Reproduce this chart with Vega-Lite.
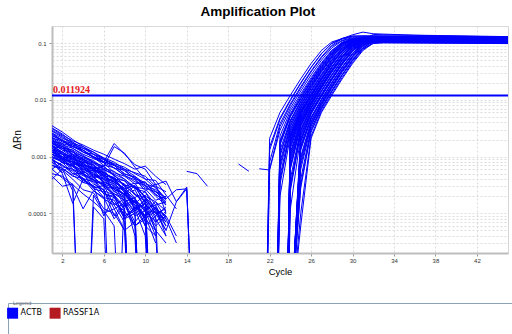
{
"$schema": "https://vega.github.io/schema/vega-lite/v6.json",
"autosize": {"type": "pad"},
"padding": {"left": 7, "top": 4, "right": 0, "bottom": 0},
"background": "#ffffff",
"spacing": 24,
"config": {
  "view": {"stroke": null},
  "font": "Liberation Sans"
},
"datasets": {
"thr": [{"t": 0.011924, "label": "0.011924", "c0": 1}],
"leg": [{"g": "ACTB"}, {"g": "RASSF1A"}],
"curves": [
{"s":"b1","c":1,"v":0.0031},{"s":"b1","c":2,"v":0.0024},{"s":"b1","c":3,"v":0.0019},{"s":"b1","c":4,"v":0.0016},{"s":"b1","c":5,"v":0.0013},{"s":"b1","c":6,"v":0.0011},{"s":"b1","c":7,"v":0.0009},{"s":"b1","c":8,"v":0.00075},{"s":"b1","c":9,"v":0.0006},{"s":"b1","c":10,"v":0.00068},{"s":"b1","c":11,"v":0.00045},{"s":"b1","c":12,"v":0.00032},
{"s":"b2","c":1,"v":0.0026},{"s":"b2","c":2,"v":0.0021},{"s":"b2","c":3,"v":0.0018},{"s":"b2","c":4,"v":0.0012},{"s":"b2","c":5,"v":0.0011},{"s":"b2","c":6,"v":0.0008},{"s":"b2","c":7,"v":0.0007},{"s":"b2","c":8,"v":0.0005},{"s":"b2","c":9,"v":0.00042},{"s":"b2","c":10,"v":0.0003},{"s":"b2","c":11,"v":0.00022},{"s":"b2","c":12,"v":0.00015},
{"s":"b3","c":1,"v":0.0022},{"s":"b3","c":2,"v":0.0017},{"s":"b3","c":3,"v":0.0015},{"s":"b3","c":4,"v":0.0013},{"s":"b3","c":5,"v":0.00095},{"s":"b3","c":6,"v":0.0009},{"s":"b3","c":7,"v":0.00062},{"s":"b3","c":8,"v":0.00058},{"s":"b3","c":9,"v":0.0004},{"s":"b3","c":10,"v":0.00025},{"s":"b3","c":11,"v":0.00033},{"s":"b3","c":12,"v":0.0001},
{"s":"b4","c":1,"v":0.0019},{"s":"b4","c":2,"v":0.0016},{"s":"b4","c":3,"v":0.0011},{"s":"b4","c":4,"v":0.00095},{"s":"b4","c":5,"v":0.0008},{"s":"b4","c":6,"v":0.0006},{"s":"b4","c":7,"v":0.00048},{"s":"b4","c":8,"v":0.0003},{"s":"b4","c":9,"v":0.00034},{"s":"b4","c":10,"v":0.00018},{"s":"b4","c":11,"v":0.00012},{"s":"b4","c":12,"v":0.00009},
{"s":"b5","c":1,"v":0.0018},{"s":"b5","c":2,"v":0.0013},{"s":"b5","c":3,"v":0.0012},{"s":"b5","c":4,"v":0.0009},{"s":"b5","c":5,"v":0.00072},{"s":"b5","c":6,"v":0.00052},{"s":"b5","c":7,"v":0.0004},{"s":"b5","c":8,"v":0.00038},{"s":"b5","c":9,"v":0.00022},{"s":"b5","c":10,"v":0.00016},{"s":"b5","c":11,"v":1e-8},
{"s":"b6","c":1,"v":0.0017},{"s":"b6","c":2,"v":0.0015},{"s":"b6","c":3,"v":0.00105},{"s":"b6","c":4,"v":0.00088},{"s":"b6","c":5,"v":0.00066},{"s":"b6","c":6,"v":0.00058},{"s":"b6","c":7,"v":0.00035},{"s":"b6","c":8,"v":0.00028},{"s":"b6","c":9,"v":0.00019},{"s":"b6","c":10,"v":0.00024},{"s":"b6","c":11,"v":0.00011},{"s":"b6","c":12,"v":0.00006},
{"s":"b7","c":1,"v":0.0016},{"s":"b7","c":2,"v":0.0012},{"s":"b7","c":3,"v":0.00095},{"s":"b7","c":4,"v":0.0008},{"s":"b7","c":5,"v":0.0007},{"s":"b7","c":6,"v":0.00046},{"s":"b7","c":7,"v":0.00042},{"s":"b7","c":8,"v":0.00025},{"s":"b7","c":9,"v":0.00014},{"s":"b7","c":10,"v":0.00009},{"s":"b7","c":11,"v":0.00013},{"s":"b7","c":12,"v":0.00004},
{"s":"b8","c":1,"v":0.0015},{"s":"b8","c":2,"v":0.0011},{"s":"b8","c":3,"v":0.0009},{"s":"b8","c":4,"v":0.00075},{"s":"b8","c":5,"v":0.00055},{"s":"b8","c":6,"v":0.0005},{"s":"b8","c":7,"v":0.00032},{"s":"b8","c":8,"v":0.00021},{"s":"b8","c":9,"v":0.00026},{"s":"b8","c":10,"v":0.00012},{"s":"b8","c":11,"v":1e-8},
{"s":"b9","c":1,"v":0.0014},{"s":"b9","c":2,"v":0.00115},{"s":"b9","c":3,"v":0.00085},{"s":"b9","c":4,"v":0.0006},{"s":"b9","c":5,"v":0.00062},{"s":"b9","c":6,"v":0.00041},{"s":"b9","c":7,"v":0.00036},{"s":"b9","c":8,"v":0.00018},{"s":"b9","c":9,"v":0.00011},{"s":"b9","c":10,"v":0.00015},{"s":"b9","c":11,"v":0.00007},{"s":"b9","c":12,"v":0.00011},
{"s":"b10","c":1,"v":0.0013},{"s":"b10","c":2,"v":0.0009},{"s":"b10","c":3,"v":0.0008},{"s":"b10","c":4,"v":0.00068},{"s":"b10","c":5,"v":0.00048},{"s":"b10","c":6,"v":0.00037},{"s":"b10","c":7,"v":1e-8},{"s":"b10","c":8,"v":0.00024},{"s":"b10","c":9,"v":0.00013},{"s":"b10","c":10,"v":0.00009},
{"s":"b11","c":1,"v":0.0012},{"s":"b11","c":2,"v":0.001},{"s":"b11","c":3,"v":0.00072},{"s":"b11","c":4,"v":0.00055},{"s":"b11","c":5,"v":0.00044},{"s":"b11","c":6,"v":0.0003},{"s":"b11","c":7,"v":0.00027},{"s":"b11","c":8,"v":0.00014},{"s":"b11","c":9,"v":0.00017},{"s":"b11","c":10,"v":0.00008},{"s":"b11","c":11,"v":0.00005},{"s":"b11","c":12,"v":0.00003},
{"s":"b12","c":1,"v":0.0011},{"s":"b12","c":2,"v":0.00078},{"s":"b12","c":3,"v":0.0007},{"s":"b12","c":4,"v":0.0005},{"s":"b12","c":5,"v":0.00038},{"s":"b12","c":6,"v":0.00032},{"s":"b12","c":7,"v":0.0002},{"s":"b12","c":8,"v":0.00012},{"s":"b12","c":9,"v":1e-8},
{"s":"b13","c":1,"v":0.001},{"s":"b13","c":2,"v":0.00085},{"s":"b13","c":3,"v":0.00058},{"s":"b13","c":4,"v":0.00046},{"s":"b13","c":5,"v":0.0004},{"s":"b13","c":6,"v":0.00022},{"s":"b13","c":7,"v":0.00019},{"s":"b13","c":8,"v":0.00009},{"s":"b13","c":9,"v":0.00012},{"s":"b13","c":10,"v":0.00004},{"s":"b13","c":11,"v":1e-8},
{"s":"b14","c":1,"v":0.0009},{"s":"b14","c":2,"v":0.0007},{"s":"b14","c":3,"v":0.00055},{"s":"b14","c":4,"v":0.00038},{"s":"b14","c":5,"v":0.0003},{"s":"b14","c":6,"v":0.00026},{"s":"b14","c":7,"v":0.00012},{"s":"b14","c":8,"v":0.00015},{"s":"b14","c":9,"v":0.00006},{"s":"b14","c":10,"v":0.00009},{"s":"b14","c":11,"v":0.00003},
{"s":"b15","c":1,"v":0.0008},{"s":"b15","c":2,"v":0.00062},{"s":"b15","c":3,"v":0.00045},{"s":"b15","c":4,"v":0.00041},{"s":"b15","c":5,"v":0.00025},{"s":"b15","c":6,"v":0.00018},{"s":"b15","c":7,"v":0.00014},{"s":"b15","c":8,"v":0.00007},{"s":"b15","c":9,"v":1e-8},
{"s":"b16","c":1,"v":0.0007},{"s":"b16","c":2,"v":0.00058},{"s":"b16","c":3,"v":0.0004},{"s":"b16","c":4,"v":0.00026},{"s":"b16","c":5,"v":0.00023},{"s":"b16","c":6,"v":0.00012},{"s":"b16","c":7,"v":0.0001},{"s":"b16","c":8,"v":0.00005},{"s":"b16","c":9,"v":0.00007},{"s":"b16","c":10,"v":1e-8},
{"s":"b17","c":1,"v":0.0005},{"s":"b17","c":2,"v":0.00045},{"s":"b17","c":3,"v":0.00032},{"s":"b17","c":4,"v":0.00022},{"s":"b17","c":5,"v":0.00016},{"s":"b17","c":6,"v":0.00011},{"s":"b17","c":7,"v":0.00006},{"s":"b17","c":8,"v":1e-8},
{"s":"b18","c":1,"v":0.0004},{"s":"b18","c":2,"v":0.0006},{"s":"b18","c":3,"v":0.00025},{"s":"b18","c":4,"v":1e-8},{"s":"b18","c":5,"v":0.00013},{"s":"b18","c":6,"v":0.00008},{"s":"b18","c":7,"v":1e-8},
{"s":"b19","c":1,"v":0.0021},{"s":"b19","c":2,"v":0.0019},{"s":"b19","c":3,"v":0.0014},{"s":"b19","c":4,"v":0.0011},{"s":"b19","c":5,"v":0.00092},{"s":"b19","c":6,"v":0.00078},{"s":"b19","c":7,"v":0.00052},{"s":"b19","c":8,"v":0.00045},{"s":"b19","c":9,"v":0.00033},{"s":"b19","c":10,"v":0.00036},{"s":"b19","c":11,"v":0.00021},{"s":"b19","c":12,"v":0.00018},{"s":"b19","c":13,"v":0.00026},{"s":"b19","c":14,"v":0.00027},{"s":"b19","c":15,"v":1e-8},
{"s":"b20","c":1,"v":0.0024},{"s":"b20","c":2,"v":0.0018},{"s":"b20","c":3,"v":0.0016},{"s":"b20","c":4,"v":0.0012},{"s":"b20","c":5,"v":0.001},{"s":"b20","c":6,"v":0.0008},{"s":"b20","c":7,"v":0.0017},{"s":"b20","c":8,"v":0.0011},{"s":"b20","c":9,"v":0.00072},{"s":"b20","c":10,"v":0.0006},{"s":"b20","c":11,"v":0.00032},{"s":"b20","c":12,"v":0.00037},{"s":"b20","c":13,"v":0.00016},{"s":"b20","c":14,"v":0.00029},{"s":"b20","c":15,"v":1e-8},
{"s":"b21","c":1,"v":0.0011},{"s":"b21","c":2,"v":0.0009},{"s":"b21","c":3,"v":0.00082},{"s":"b21","c":4,"v":0.0007},{"s":"b21","c":5,"v":0.0006},{"s":"b21","c":6,"v":0.00068},{"s":"b21","c":7,"v":0.0015},{"s":"b21","c":8,"v":0.00115},{"s":"b21","c":9,"v":0.00065},{"s":"b21","c":10,"v":0.0004},{"s":"b21","c":11,"v":0.00028},{"s":"b21","c":12,"v":0.00017},
{"s":"b22","c":1,"v":0.0028},{"s":"b22","c":2,"v":0.0022},{"s":"b22","c":3,"v":0.0016},{"s":"b22","c":4,"v":0.0014},{"s":"b22","c":5,"v":0.0012},{"s":"b22","c":6,"v":0.00095},{"s":"b22","c":7,"v":0.0008},{"s":"b22","c":8,"v":0.0006},{"s":"b22","c":9,"v":0.00052},{"s":"b22","c":10,"v":0.00045},{"s":"b22","c":11,"v":0.0003},{"s":"b22","c":12,"v":0.00024},
{"s":"b23","c":1,"v":0.0016},{"s":"b23","c":2,"v":0.0009},{"s":"b23","c":3,"v":0.0011},{"s":"b23","c":4,"v":0.00052},{"s":"b23","c":5,"v":0.00058},{"s":"b23","c":6,"v":0.00033},{"s":"b23","c":7,"v":0.00028},{"s":"b23","c":8,"v":0.00022},{"s":"b23","c":9,"v":0.00016},{"s":"b23","c":10,"v":0.00011},{"s":"b23","c":11,"v":0.00016},{"s":"b23","c":12,"v":0.00008},{"s":"b23","c":13,"v":0.00003},
{"s":"b24","c":1,"v":0.0013},{"s":"b24","c":2,"v":0.0011},{"s":"b24","c":3,"v":0.0007},{"s":"b24","c":4,"v":0.0008},{"s":"b24","c":5,"v":0.00042},{"s":"b24","c":6,"v":0.00048},{"s":"b24","c":7,"v":0.00024},{"s":"b24","c":8,"v":0.00032},{"s":"b24","c":9,"v":0.00011},{"s":"b24","c":10,"v":0.00018},{"s":"b24","c":11,"v":0.0001},{"s":"b24","c":12,"v":0.00005},{"s":"b24","c":13,"v":0.00016},{"s":"b24","c":14,"v":0.00027},{"s":"b24","c":15,"v":1e-8},
{"s":"b25","c":1,"v":0.0009},{"s":"b25","c":2,"v":0.00052},{"s":"b25","c":3,"v":0.00078},{"s":"b25","c":4,"v":0.00035},{"s":"b25","c":5,"v":0.0004},{"s":"b25","c":6,"v":0.00025},{"s":"b25","c":7,"v":0.00021},{"s":"b25","c":8,"v":0.00008},{"s":"b25","c":9,"v":0.00013},{"s":"b25","c":10,"v":0.00006},{"s":"b25","c":11,"v":0.00009},{"s":"b25","c":12,"v":1e-8},
{"s":"b26","c":1,"v":0.0006},{"s":"b26","c":2,"v":0.0008},{"s":"b26","c":3,"v":0.0005},{"s":"b26","c":4,"v":0.0005},{"s":"b26","c":5,"v":0.00028},{"s":"b26","c":6,"v":0.00031},{"s":"b26","c":7,"v":0.00014},{"s":"b26","c":8,"v":0.00018},{"s":"b26","c":9,"v":0.00004},{"s":"b26","c":10,"v":1e-8},
{"s":"b27","c":1,"v":0.0035},{"s":"b27","c":2,"v":0.0027},{"s":"b27","c":3,"v":0.002},{"s":"b27","c":4,"v":0.0015},{"s":"b27","c":5,"v":0.0012},{"s":"b27","c":6,"v":0.0009},{"s":"b27","c":7,"v":0.00075},{"s":"b27","c":8,"v":0.00065},{"s":"b27","c":9,"v":0.0005},{"s":"b27","c":10,"v":0.0004},{"s":"b27","c":11,"v":0.00038},{"s":"b27","c":12,"v":0.00021},{"s":"b27","c":13,"v":0.00012},
{"s":"b28","c":1,"v":0.0019},{"s":"b28","c":2,"v":0.0014},{"s":"b28","c":3,"v":0.0013},{"s":"b28","c":4,"v":0.0007},{"s":"b28","c":5,"v":0.00065},{"s":"b28","c":6,"v":0.00055},{"s":"b28","c":7,"v":0.00038},{"s":"b28","c":8,"v":0.00027},{"s":"b28","c":9,"v":0.00031},{"s":"b28","c":10,"v":0.00019},{"s":"b28","c":11,"v":0.00013},{"s":"b28","c":12,"v":0.00007},
{"s":"b29","c":1,"v":0.00045},{"s":"b29","c":2,"v":0.0003},{"s":"b29","c":3,"v":0.00033},{"s":"b29","c":4,"v":1e-8},{"s":"b29","c":5,"v":0.00021},{"s":"b29","c":6,"v":0.0001},{"s":"b29","c":7,"v":0.00012},{"s":"b29","c":8,"v":0.00005},{"s":"b29","c":9,"v":1e-8},
{"s":"b30","c":1,"v":0.0012},{"s":"b30","c":2,"v":0.00095},{"s":"b30","c":3,"v":0.0006},{"s":"b30","c":4,"v":0.0005},{"s":"b30","c":5,"v":0.00033},{"s":"b30","c":6,"v":0.00026},{"s":"b30","c":7,"v":0.00009},{"s":"b30","c":8,"v":0.00016},{"s":"b30","c":9,"v":0.00007},{"s":"b30","c":10,"v":0.00012},{"s":"b30","c":11,"v":0.00006},{"s":"b30","c":12,"v":0.00009},{"s":"b30","c":13,"v":0.00004},
{"s":"b31","c":1,"v":0.0025},{"s":"b31","c":2,"v":0.0019},{"s":"b31","c":3,"v":0.0017},{"s":"b31","c":4,"v":0.0013},{"s":"b31","c":5,"v":0.001},{"s":"b31","c":6,"v":0.00082},{"s":"b31","c":7,"v":0.0007},{"s":"b31","c":8,"v":0.00049},{"s":"b31","c":9,"v":0.00044},{"s":"b31","c":10,"v":0.00031},{"s":"b31","c":11,"v":0.00026},{"s":"b31","c":12,"v":0.00014},
{"s":"b32","c":1,"v":0.0015},{"s":"b32","c":2,"v":0.0014},{"s":"b32","c":3,"v":0.001},{"s":"b32","c":4,"v":0.00092},{"s":"b32","c":5,"v":0.0006},{"s":"b32","c":6,"v":0.00053},{"s":"b32","c":7,"v":0.00039},{"s":"b32","c":8,"v":0.00033},{"s":"b32","c":9,"v":0.00021},{"s":"b32","c":10,"v":0.00019},{"s":"b32","c":11,"v":0.0001},{"s":"b32","c":12,"v":0.00012},
{"s":"b33","c":1,"v":0.0013},{"s":"b33","c":2,"v":0.0012},{"s":"b33","c":3,"v":0.0009},{"s":"b33","c":4,"v":0.0007},{"s":"b33","c":5,"v":0.00064},{"s":"b33","c":6,"v":0.00044},{"s":"b33","c":7,"v":0.00035},{"s":"b33","c":8,"v":0.00027},{"s":"b33","c":9,"v":0.00015},{"s":"b33","c":10,"v":0.00021},{"s":"b33","c":11,"v":1e-8},
{"s":"b34","c":1,"v":0.0011},{"s":"b34","c":2,"v":0.00094},{"s":"b34","c":3,"v":0.0008},{"s":"b34","c":4,"v":0.00061},{"s":"b34","c":5,"v":0.00045},{"s":"b34","c":6,"v":0.0004},{"s":"b34","c":7,"v":0.00024},{"s":"b34","c":8,"v":0.0002},{"s":"b34","c":9,"v":0.00014},{"s":"b34","c":10,"v":0.00008},{"s":"b34","c":11,"v":0.00011},{"s":"b34","c":12,"v":0.00005},
{"s":"b35","c":1,"v":0.002},{"s":"b35","c":2,"v":0.0015},{"s":"b35","c":3,"v":0.0013},{"s":"b35","c":4,"v":0.001},{"s":"b35","c":5,"v":0.00085},{"s":"b35","c":6,"v":0.00062},{"s":"b35","c":7,"v":0.00055},{"s":"b35","c":8,"v":0.0004},{"s":"b35","c":9,"v":0.00029},{"s":"b35","c":10,"v":0.00027},{"s":"b35","c":11,"v":0.00017},{"s":"b35","c":12,"v":0.0002},
{"s":"b36","c":1,"v":0.00095},{"s":"b36","c":2,"v":0.00082},{"s":"b36","c":3,"v":0.00066},{"s":"b36","c":4,"v":0.00048},{"s":"b36","c":5,"v":0.00043},{"s":"b36","c":6,"v":0.00029},{"s":"b36","c":7,"v":0.00022},{"s":"b36","c":8,"v":0.00019},{"s":"b36","c":9,"v":0.0001},{"s":"b36","c":10,"v":0.00013},{"s":"b36","c":11,"v":0.00005},
{"s":"b37","c":1,"v":0.0017},{"s":"b37","c":2,"v":0.0013},{"s":"b37","c":3,"v":0.00099},{"s":"b37","c":4,"v":0.00085},{"s":"b37","c":5,"v":0.00058},{"s":"b37","c":6,"v":0.00052},{"s":"b37","c":7,"v":0.00041},{"s":"b37","c":8,"v":0.00023},{"s":"b37","c":9,"v":0.0003},{"s":"b37","c":10,"v":0.00015},{"s":"b37","c":11,"v":0.00009},{"s":"b37","c":12,"v":0.00013},
{"s":"b38","c":1,"v":0.0023},{"s":"b38","c":2,"v":0.002},{"s":"b38","c":3,"v":0.0015},{"s":"b38","c":4,"v":0.0012},{"s":"b38","c":5,"v":0.00098},{"s":"b38","c":6,"v":0.0007},{"s":"b38","c":7,"v":0.00064},{"s":"b38","c":8,"v":0.00046},{"s":"b38","c":9,"v":0.00039},{"s":"b38","c":10,"v":0.00028},{"s":"b38","c":11,"v":0.00024},{"s":"b38","c":12,"v":0.00016},
{"s":"b39","c":1,"v":0.0012},{"s":"b39","c":2,"v":0.00088},{"s":"b39","c":3,"v":0.00075},{"s":"b39","c":4,"v":0.00068},{"s":"b39","c":5,"v":0.0005},{"s":"b39","c":6,"v":0.00035},{"s":"b39","c":7,"v":0.00031},{"s":"b39","c":8,"v":0.00016},{"s":"b39","c":9,"v":0.00019},{"s":"b39","c":10,"v":0.00007},{"s":"b39","c":11,"v":1e-8},
{"s":"b40","c":1,"v":0.0016},{"s":"b40","c":2,"v":0.0011},{"s":"b40","c":3,"v":0.001},{"s":"b40","c":4,"v":0.00072},{"s":"b40","c":5,"v":0.00062},{"s":"b40","c":6,"v":0.00047},{"s":"b40","c":7,"v":0.00029},{"s":"b40","c":8,"v":0.00026},{"s":"b40","c":9,"v":0.00017},{"s":"b40","c":10,"v":0.00012},{"s":"b40","c":11,"v":0.00014},{"s":"b40","c":12,"v":0.00006},
{"s":"b41","c":1,"v":0.0029},{"s":"b41","c":2,"v":0.0023},{"s":"b41","c":3,"v":0.0017},{"s":"b41","c":4,"v":0.0015},{"s":"b41","c":5,"v":0.0011},{"s":"b41","c":6,"v":0.00088},{"s":"b41","c":7,"v":0.00072},{"s":"b41","c":8,"v":0.00056},{"s":"b41","c":9,"v":0.00041},{"s":"b41","c":10,"v":0.00035},{"s":"b41","c":11,"v":0.00024},{"s":"b41","c":12,"v":0.00019},
{"s":"b42","c":1,"v":0.00085},{"s":"b42","c":2,"v":0.00071},{"s":"b42","c":3,"v":0.0005},{"s":"b42","c":4,"v":0.00042},{"s":"b42","c":5,"v":0.00027},{"s":"b42","c":6,"v":0.00024},{"s":"b42","c":7,"v":0.00015},{"s":"b42","c":8,"v":0.00011},{"s":"b42","c":9,"v":0.00006},{"s":"b42","c":10,"v":0.00008},{"s":"b42","c":11,"v":1e-8},
{"s":"b43","c":1,"v":0.0014},{"s":"b43","c":2,"v":0.001},{"s":"b43","c":3,"v":0.00092},{"s":"b43","c":4,"v":0.00065},{"s":"b43","c":5,"v":0.00055},{"s":"b43","c":6,"v":0.00039},{"s":"b43","c":7,"v":0.00033},{"s":"b43","c":8,"v":0.00024},{"s":"b43","c":9,"v":0.00012},{"s":"b43","c":10,"v":0.00017},{"s":"b43","c":11,"v":0.00008},{"s":"b43","c":12,"v":0.00004},
{"s":"b44","c":1,"v":0.0019},{"s":"b44","c":2,"v":0.0017},{"s":"b44","c":3,"v":0.0012},{"s":"b44","c":4,"v":0.001},{"s":"b44","c":5,"v":0.00078},{"s":"b44","c":6,"v":0.00068},{"s":"b44","c":7,"v":0.00045},{"s":"b44","c":8,"v":0.00037},{"s":"b44","c":9,"v":0.00028},{"s":"b44","c":10,"v":0.0002},{"s":"b44","c":11,"v":0.00016},{"s":"b44","c":12,"v":0.00011},
{"s":"b45","c":1,"v":0.0007},{"s":"b45","c":2,"v":0.00062},{"s":"b45","c":3,"v":0.00047},{"s":"b45","c":4,"v":0.00035},{"s":"b45","c":5,"v":0.00031},{"s":"b45","c":6,"v":0.00019},{"s":"b45","c":7,"v":0.00017},{"s":"b45","c":8,"v":0.00008},{"s":"b45","c":9,"v":0.0001},{"s":"b45","c":10,"v":1e-8},
{"s":"b46","c":1,"v":0.0012},{"s":"b46","c":2,"v":0.0011},{"s":"b46","c":3,"v":0.00078},{"s":"b46","c":4,"v":0.00059},{"s":"b46","c":5,"v":0.00052},{"s":"b46","c":6,"v":0.00036},{"s":"b46","c":7,"v":0.00028},{"s":"b46","c":8,"v":0.00021},{"s":"b46","c":9,"v":0.00016},{"s":"b46","c":10,"v":0.00009},{"s":"b46","c":11,"v":0.00012},{"s":"b46","c":12,"v":0.00007},
{"s":"b47","c":1,"v":0.0021},{"s":"b47","c":2,"v":0.0016},{"s":"b47","c":3,"v":0.0014},{"s":"b47","c":4,"v":0.00105},{"s":"b47","c":5,"v":0.0008},{"s":"b47","c":6,"v":0.00066},{"s":"b47","c":7,"v":0.00049},{"s":"b47","c":8,"v":0.0004},{"s":"b47","c":9,"v":0.00027},{"s":"b47","c":10,"v":0.00024},{"s":"b47","c":11,"v":0.00014},{"s":"b47","c":12,"v":0.00016},
{"s":"b48","c":1,"v":0.001},{"s":"b48","c":2,"v":0.00079},{"s":"b48","c":3,"v":0.00068},{"s":"b48","c":4,"v":0.00052},{"s":"b48","c":5,"v":0.00036},{"s":"b48","c":6,"v":0.00033},{"s":"b48","c":7,"v":0.00021},{"s":"b48","c":8,"v":0.00013},{"s":"b48","c":9,"v":0.00016},{"s":"b48","c":10,"v":0.00006},{"s":"b48","c":11,"v":0.00004},
{"s":"b49","c":1,"v":0.0017},{"s":"b49","c":2,"v":0.0014},{"s":"b49","c":3,"v":0.0011},{"s":"b49","c":4,"v":0.00083},{"s":"b49","c":5,"v":0.00072},{"s":"b49","c":6,"v":0.00049},{"s":"b49","c":7,"v":0.00043},{"s":"b49","c":8,"v":0.0003},{"s":"b49","c":9,"v":0.00022},{"s":"b49","c":10,"v":0.00014},{"s":"b49","c":11,"v":0.0001},{"s":"b49","c":12,"v":0.00008},
{"s":"b50","c":1,"v":0.0013},{"s":"b50","c":2,"v":0.00098},{"s":"b50","c":3,"v":0.00086},{"s":"b50","c":4,"v":0.00064},{"s":"b50","c":5,"v":0.00047},{"s":"b50","c":6,"v":0.00042},{"s":"b50","c":7,"v":0.00026},{"s":"b50","c":8,"v":0.00022},{"s":"b50","c":9,"v":0.00012},{"s":"b50","c":10,"v":0.00015},{"s":"b50","c":11,"v":0.00005},{"s":"b50","c":12,"v":1e-8},
{"s":"b51","c":1,"v":0.0026},{"s":"b51","c":2,"v":0.0019},{"s":"b51","c":3,"v":0.0015},{"s":"b51","c":4,"v":0.0013},{"s":"b51","c":5,"v":0.00096},{"s":"b51","c":6,"v":0.00078},{"s":"b51","c":7,"v":0.00063},{"s":"b51","c":8,"v":0.00047},{"s":"b51","c":9,"v":0.00036},{"s":"b51","c":10,"v":0.00031},{"s":"b51","c":11,"v":0.0002},{"s":"b51","c":12,"v":0.00014},
{"s":"b52","c":1,"v":0.0009},{"s":"b52","c":2,"v":0.00066},{"s":"b52","c":3,"v":0.0006},{"s":"b52","c":4,"v":0.00041},{"s":"b52","c":5,"v":0.00036},{"s":"b52","c":6,"v":0.00022},{"s":"b52","c":7,"v":0.0002},{"s":"b52","c":8,"v":0.00009},{"s":"b52","c":9,"v":0.00011},{"s":"b52","c":10,"v":1e-8},
{"s":"b53","c":1,"v":0.0015},{"s":"b53","c":2,"v":0.0012},{"s":"b53","c":3,"v":0.00093},{"s":"b53","c":4,"v":0.00077},{"s":"b53","c":5,"v":0.00058},{"s":"b53","c":6,"v":0.00044},{"s":"b53","c":7,"v":0.00037},{"s":"b53","c":8,"v":0.00025},{"s":"b53","c":9,"v":0.00018},{"s":"b53","c":10,"v":0.00011},{"s":"b53","c":11,"v":0.00007},{"s":"b53","c":12,"v":0.0001},
{"s":"b54","c":1,"v":0.0018},{"s":"b54","c":2,"v":0.0015},{"s":"b54","c":3,"v":0.0012},{"s":"b54","c":4,"v":0.0009},{"s":"b54","c":5,"v":0.00076},{"s":"b54","c":6,"v":0.00059},{"s":"b54","c":7,"v":0.00047},{"s":"b54","c":8,"v":0.00031},{"s":"b54","c":9,"v":0.00029},{"s":"b54","c":10,"v":0.00016},{"s":"b54","c":11,"v":0.00012},{"s":"b54","c":12,"v":0.00009},
{"s":"b55","c":1,"v":0.0011},{"s":"b55","c":2,"v":0.00086},{"s":"b55","c":3,"v":0.00069},{"s":"b55","c":4,"v":0.00057},{"s":"b55","c":5,"v":0.00039},{"s":"b55","c":6,"v":0.00034},{"s":"b55","c":7,"v":0.00022},{"s":"b55","c":8,"v":0.00017},{"s":"b55","c":9,"v":0.00009},{"s":"b55","c":10,"v":0.00011},{"s":"b55","c":11,"v":0.00004},
{"s":"b56","c":1,"v":0.0032},{"s":"b56","c":2,"v":0.0025},{"s":"b56","c":3,"v":0.0018},{"s":"b56","c":4,"v":0.0014},{"s":"b56","c":5,"v":0.0011},{"s":"b56","c":6,"v":0.00094},{"s":"b56","c":7,"v":0.00071},{"s":"b56","c":8,"v":0.0006},{"s":"b56","c":9,"v":0.00045},{"s":"b56","c":10,"v":0.00033},{"s":"b56","c":11,"v":0.00029},{"s":"b56","c":12,"v":0.00018},
{"s":"b57","c":1,"v":0.0008},{"s":"b57","c":2,"v":0.0005},{"s":"b57","c":3,"v":0.00015},{"s":"b57","c":4,"v":0.0004},{"s":"b57","c":5,"v":0.0003},{"s":"b57","c":6,"v":0.00009},{"s":"b57","c":7,"v":0.0002},{"s":"b57","c":8,"v":0.00012},{"s":"b57","c":9,"v":1e-8},
{"s":"b58","c":1,"v":0.0006},{"s":"b58","c":2,"v":0.00042},{"s":"b58","c":3,"v":0.0003},{"s":"b58","c":4,"v":0.00012},{"s":"b58","c":5,"v":0.00025},{"s":"b58","c":6,"v":0.00019},{"s":"b58","c":7,"v":0.00008},{"s":"b58","c":8,"v":0.00014},{"s":"b58","c":9,"v":0.00006},{"s":"b58","c":10,"v":1e-8},
{"s":"f1","c":14,"v":0.00055},{"s":"f1","c":15,"v":0.0005},{"s":"f1","c":16,"v":0.0003},
{"s":"f2","c":19,"v":0.00074},{"s":"f2","c":20,"v":0.00055},
{"s":"a1","c":21,"v":1e-12},{"s":"a1","c":22,"v":0.0021},{"s":"a1","c":23,"v":0.006},{"s":"a1","c":24,"v":0.012},{"s":"a1","c":25,"v":0.0234},{"s":"a1","c":26,"v":0.0437},{"s":"a1","c":27,"v":0.0741},{"s":"a1","c":28,"v":0.1047},{"s":"a1","c":29,"v":0.12},{"s":"a1","c":30,"v":0.132},{"s":"a1","c":45,"v":0.125},
{"s":"a2","c":21,"v":1e-12},{"s":"a2","c":22,"v":0.00148},{"s":"a2","c":23,"v":0.0048},{"s":"a2","c":24,"v":0.0101},{"s":"a2","c":25,"v":0.02},{"s":"a2","c":26,"v":0.0376},{"s":"a2","c":27,"v":0.0653},{"s":"a2","c":28,"v":0.0989},{"s":"a2","c":29,"v":0.1175},{"s":"a2","c":30,"v":0.128},{"s":"a2","c":45,"v":0.121},
{"s":"a3","c":21,"v":1e-12},{"s":"a3","c":22,"v":0.0008},{"s":"a3","c":23,"v":0.0038},{"s":"a3","c":24,"v":0.0085},{"s":"a3","c":25,"v":0.017},{"s":"a3","c":26,"v":0.0324},{"s":"a3","c":27,"v":0.0575},{"s":"a3","c":28,"v":0.0912},{"s":"a3","c":29,"v":0.12},{"s":"a3","c":30,"v":0.14},{"s":"a3","c":31,"v":0.156},{"s":"a3","c":32,"v":0.146},{"s":"a3","c":36,"v":0.138},{"s":"a3","c":45,"v":0.13},
{"s":"a4","c":21,"v":0.00061},{"s":"a4","c":22,"v":0.00058},{"s":"a4","c":23,"v":0.0029},{"s":"a4","c":24,"v":0.00716},{"s":"a4","c":25,"v":0.0143},{"s":"a4","c":26,"v":0.0275},{"s":"a4","c":27,"v":0.05},{"s":"a4","c":28,"v":0.0822},{"s":"a4","c":29,"v":0.1096},{"s":"a4","c":30,"v":0.12},{"s":"a4","c":45,"v":0.114},
{"s":"a29","c":22,"v":1e-12},{"s":"a29","c":23,"v":0.0019},{"s":"a29","c":24,"v":0.0057},{"s":"a29","c":25,"v":0.0118},{"s":"a29","c":26,"v":0.023},{"s":"a29","c":27,"v":0.043},{"s":"a29","c":28,"v":0.073},{"s":"a29","c":29,"v":0.104},{"s":"a29","c":30,"v":0.119},{"s":"a29","c":31,"v":0.127},{"s":"a29","c":45,"v":0.121},
{"s":"a5","c":22,"v":1e-12},{"s":"a5","c":23,"v":0.0016},{"s":"a5","c":24,"v":0.005},{"s":"a5","c":25,"v":0.0103},{"s":"a5","c":26,"v":0.0205},{"s":"a5","c":27,"v":0.038},{"s":"a5","c":28,"v":0.066},{"s":"a5","c":29,"v":0.0995},{"s":"a5","c":30,"v":0.115},{"s":"a5","c":31,"v":0.118},{"s":"a5","c":45,"v":0.112},
{"s":"a6","c":22,"v":1e-12},{"s":"a6","c":23,"v":0.0008},{"s":"a6","c":24,"v":0.0038},{"s":"a6","c":25,"v":0.0085},{"s":"a6","c":26,"v":0.017},{"s":"a6","c":27,"v":0.0324},{"s":"a6","c":28,"v":0.0575},{"s":"a6","c":29,"v":0.0912},{"s":"a6","c":30,"v":0.1148},{"s":"a6","c":31,"v":0.122},{"s":"a6","c":45,"v":0.117},
{"s":"a7","c":22,"v":1e-12},{"s":"a7","c":23,"v":0.0006},{"s":"a7","c":24,"v":0.0034},{"s":"a7","c":25,"v":0.0081},{"s":"a7","c":26,"v":0.0165},{"s":"a7","c":27,"v":0.0318},{"s":"a7","c":28,"v":0.0565},{"s":"a7","c":29,"v":0.089},{"s":"a7","c":30,"v":0.108},{"s":"a7","c":31,"v":0.112},{"s":"a7","c":45,"v":0.107},
{"s":"a8","c":22,"v":1e-12},{"s":"a8","c":23,"v":0.00032},{"s":"a8","c":24,"v":0.0029},{"s":"a8","c":25,"v":0.00716},{"s":"a8","c":26,"v":0.0143},{"s":"a8","c":27,"v":0.0275},{"s":"a8","c":28,"v":0.05},{"s":"a8","c":29,"v":0.0822},{"s":"a8","c":30,"v":0.1096},{"s":"a8","c":31,"v":0.121},{"s":"a8","c":32,"v":0.126},{"s":"a8","c":45,"v":0.12},
{"s":"a9","c":22,"v":1e-12},{"s":"a9","c":23,"v":0.00045},{"s":"a9","c":24,"v":0.0031},{"s":"a9","c":25,"v":0.0074},{"s":"a9","c":26,"v":0.0148},{"s":"a9","c":27,"v":0.0282},{"s":"a9","c":28,"v":0.051},{"s":"a9","c":29,"v":0.082},{"s":"a9","c":30,"v":0.104},{"s":"a9","c":31,"v":0.108},{"s":"a9","c":45,"v":0.103},
{"s":"a10","c":23,"v":1e-12},{"s":"a10","c":24,"v":0.0021},{"s":"a10","c":25,"v":0.006},{"s":"a10","c":26,"v":0.012},{"s":"a10","c":27,"v":0.0234},{"s":"a10","c":28,"v":0.0437},{"s":"a10","c":29,"v":0.0741},{"s":"a10","c":30,"v":0.1047},{"s":"a10","c":31,"v":0.12},{"s":"a10","c":32,"v":0.13},{"s":"a10","c":45,"v":0.124},
{"s":"a11","c":23,"v":1e-12},{"s":"a11","c":24,"v":0.0017},{"s":"a11","c":25,"v":0.0055},{"s":"a11","c":26,"v":0.0115},{"s":"a11","c":27,"v":0.0226},{"s":"a11","c":28,"v":0.0425},{"s":"a11","c":29,"v":0.072},{"s":"a11","c":30,"v":0.101},{"s":"a11","c":31,"v":0.113},{"s":"a11","c":32,"v":0.115},{"s":"a11","c":45,"v":0.11},
{"s":"a12","c":23,"v":1e-12},{"s":"a12","c":24,"v":0.0025},{"s":"a12","c":25,"v":0.0064},{"s":"a12","c":26,"v":0.0124},{"s":"a12","c":27,"v":0.024},{"s":"a12","c":28,"v":0.0445},{"s":"a12","c":29,"v":0.073},{"s":"a12","c":30,"v":0.098},{"s":"a12","c":31,"v":0.105},{"s":"a12","c":45,"v":0.101},
{"s":"a13","c":23,"v":1e-12},{"s":"a13","c":24,"v":0.00148},{"s":"a13","c":25,"v":0.0048},{"s":"a13","c":26,"v":0.0101},{"s":"a13","c":27,"v":0.02},{"s":"a13","c":28,"v":0.0376},{"s":"a13","c":29,"v":0.0653},{"s":"a13","c":30,"v":0.0989},{"s":"a13","c":31,"v":0.1175},{"s":"a13","c":32,"v":0.124},{"s":"a13","c":45,"v":0.118},
{"s":"a14","c":23,"v":1e-12},{"s":"a14","c":24,"v":0.0012},{"s":"a14","c":25,"v":0.0044},{"s":"a14","c":26,"v":0.0097},{"s":"a14","c":27,"v":0.0194},{"s":"a14","c":28,"v":0.0368},{"s":"a14","c":29,"v":0.064},{"s":"a14","c":30,"v":0.096},{"s":"a14","c":31,"v":0.108},{"s":"a14","c":32,"v":0.11},{"s":"a14","c":45,"v":0.105},
{"s":"a15","c":23,"v":1e-12},{"s":"a15","c":24,"v":0.0018},{"s":"a15","c":25,"v":0.0052},{"s":"a15","c":26,"v":0.0106},{"s":"a15","c":27,"v":0.0207},{"s":"a15","c":28,"v":0.0385},{"s":"a15","c":29,"v":0.0665},{"s":"a15","c":30,"v":0.1},{"s":"a15","c":31,"v":0.115},{"s":"a15","c":32,"v":0.118},{"s":"a15","c":45,"v":0.113},
{"s":"a16","c":23,"v":1e-12},{"s":"a16","c":24,"v":0.0008},{"s":"a16","c":25,"v":0.0038},{"s":"a16","c":26,"v":0.0085},{"s":"a16","c":27,"v":0.017},{"s":"a16","c":28,"v":0.0324},{"s":"a16","c":29,"v":0.0575},{"s":"a16","c":30,"v":0.0912},{"s":"a16","c":31,"v":0.1148},{"s":"a16","c":32,"v":0.128},{"s":"a16","c":45,"v":0.122},
{"s":"a17","c":23,"v":1e-12},{"s":"a17","c":24,"v":0.00065},{"s":"a17","c":25,"v":0.0035},{"s":"a17","c":26,"v":0.0081},{"s":"a17","c":27,"v":0.0163},{"s":"a17","c":28,"v":0.0314},{"s":"a17","c":29,"v":0.056},{"s":"a17","c":30,"v":0.089},{"s":"a17","c":31,"v":0.109},{"s":"a17","c":32,"v":0.113},{"s":"a17","c":45,"v":0.108},
{"s":"a18","c":23,"v":1e-12},{"s":"a18","c":24,"v":0.001},{"s":"a18","c":25,"v":0.0041},{"s":"a18","c":26,"v":0.0089},{"s":"a18","c":27,"v":0.0176},{"s":"a18","c":28,"v":0.0332},{"s":"a18","c":29,"v":0.058},{"s":"a18","c":30,"v":0.088},{"s":"a18","c":31,"v":0.1},{"s":"a18","c":32,"v":0.102},{"s":"a18","c":45,"v":0.099},
{"s":"a19","c":23,"v":1e-12},{"s":"a19","c":24,"v":0.00032},{"s":"a19","c":25,"v":0.0029},{"s":"a19","c":26,"v":0.00716},{"s":"a19","c":27,"v":0.0143},{"s":"a19","c":28,"v":0.0275},{"s":"a19","c":29,"v":0.05},{"s":"a19","c":30,"v":0.0822},{"s":"a19","c":31,"v":0.1096},{"s":"a19","c":32,"v":0.121},{"s":"a19","c":45,"v":0.116},
{"s":"a20","c":23,"v":1e-12},{"s":"a20","c":24,"v":0.00025},{"s":"a20","c":25,"v":0.0026},{"s":"a20","c":26,"v":0.0069},{"s":"a20","c":27,"v":0.014},{"s":"a20","c":28,"v":0.027},{"s":"a20","c":29,"v":0.049},{"s":"a20","c":30,"v":0.08},{"s":"a20","c":31,"v":0.103},{"s":"a20","c":32,"v":0.107},{"s":"a20","c":45,"v":0.103},
{"s":"a30","c":23,"v":1e-12},{"s":"a30","c":24,"v":0.0004},{"s":"a30","c":25,"v":0.0031},{"s":"a30","c":26,"v":0.0074},{"s":"a30","c":27,"v":0.0147},{"s":"a30","c":28,"v":0.028},{"s":"a30","c":29,"v":0.051},{"s":"a30","c":30,"v":0.084},{"s":"a30","c":31,"v":0.114},{"s":"a30","c":32,"v":0.142},{"s":"a30","c":33,"v":0.14},{"s":"a30","c":45,"v":0.128},
{"s":"a21","c":24,"v":1e-6},{"s":"a21","c":25,"v":0.0021},{"s":"a21","c":26,"v":0.006},{"s":"a21","c":27,"v":0.012},{"s":"a21","c":28,"v":0.0234},{"s":"a21","c":29,"v":0.0437},{"s":"a21","c":30,"v":0.0741},{"s":"a21","c":31,"v":0.1047},{"s":"a21","c":32,"v":0.12},{"s":"a21","c":33,"v":0.125},{"s":"a21","c":45,"v":0.119},
{"s":"a22","c":24,"v":1e-6},{"s":"a22","c":25,"v":0.0018},{"s":"a22","c":26,"v":0.0056},{"s":"a22","c":27,"v":0.0117},{"s":"a22","c":28,"v":0.0229},{"s":"a22","c":29,"v":0.0428},{"s":"a22","c":30,"v":0.0725},{"s":"a22","c":31,"v":0.1},{"s":"a22","c":32,"v":0.11},{"s":"a22","c":33,"v":0.112},{"s":"a22","c":45,"v":0.107},
{"s":"a23","c":24,"v":1e-6},{"s":"a23","c":25,"v":0.00148},{"s":"a23","c":26,"v":0.0048},{"s":"a23","c":27,"v":0.0101},{"s":"a23","c":28,"v":0.02},{"s":"a23","c":29,"v":0.0376},{"s":"a23","c":30,"v":0.0653},{"s":"a23","c":31,"v":0.0989},{"s":"a23","c":32,"v":0.1175},{"s":"a23","c":33,"v":0.119},{"s":"a23","c":45,"v":0.114},
{"s":"a24","c":24,"v":1e-6},{"s":"a24","c":25,"v":0.0013},{"s":"a24","c":26,"v":0.0046},{"s":"a24","c":27,"v":0.0099},{"s":"a24","c":28,"v":0.0196},{"s":"a24","c":29,"v":0.037},{"s":"a24","c":30,"v":0.064},{"s":"a24","c":31,"v":0.095},{"s":"a24","c":32,"v":0.103},{"s":"a24","c":33,"v":0.104},{"s":"a24","c":45,"v":0.1},
{"s":"a25","c":24,"v":1e-6},{"s":"a25","c":25,"v":0.0008},{"s":"a25","c":26,"v":0.0038},{"s":"a25","c":27,"v":0.0085},{"s":"a25","c":28,"v":0.017},{"s":"a25","c":29,"v":0.0324},{"s":"a25","c":30,"v":0.0575},{"s":"a25","c":31,"v":0.0912},{"s":"a25","c":32,"v":0.112},{"s":"a25","c":33,"v":0.116},{"s":"a25","c":45,"v":0.111},
{"s":"a26","c":24,"v":1e-6},{"s":"a26","c":25,"v":0.0009},{"s":"a26","c":26,"v":0.004},{"s":"a26","c":27,"v":0.0088},{"s":"a26","c":28,"v":0.0174},{"s":"a26","c":29,"v":0.033},{"s":"a26","c":30,"v":0.058},{"s":"a26","c":31,"v":0.09},{"s":"a26","c":32,"v":0.106},{"s":"a26","c":33,"v":0.109},{"s":"a26","c":45,"v":0.104},
{"s":"a27","c":24,"v":1e-6},{"s":"a27","c":25,"v":0.00032},{"s":"a27","c":26,"v":0.0029},{"s":"a27","c":27,"v":0.00716},{"s":"a27","c":28,"v":0.0143},{"s":"a27","c":29,"v":0.0275},{"s":"a27","c":30,"v":0.05},{"s":"a27","c":31,"v":0.0822},{"s":"a27","c":32,"v":0.105},{"s":"a27","c":33,"v":0.113},{"s":"a27","c":45,"v":0.108},
{"s":"a28","c":24,"v":1e-6},{"s":"a28","c":25,"v":0.00006},{"s":"a28","c":26,"v":0.0021},{"s":"a28","c":27,"v":0.006},{"s":"a28","c":28,"v":0.012},{"s":"a28","c":29,"v":0.0234},{"s":"a28","c":30,"v":0.0437},{"s":"a28","c":31,"v":0.0741},{"s":"a28","c":32,"v":0.1},{"s":"a28","c":33,"v":0.105},{"s":"a28","c":45,"v":0.101},
{"s":"a31","c":22,"v":1e-12},{"s":"a31","c":23,"v":0.0023},{"s":"a31","c":24,"v":0.0064},{"s":"a31","c":25,"v":0.0127},{"s":"a31","c":26,"v":0.0245},{"s":"a31","c":27,"v":0.045},{"s":"a31","c":28,"v":0.075},{"s":"a31","c":29,"v":0.102},{"s":"a31","c":30,"v":0.112},{"s":"a31","c":31,"v":0.115},{"s":"a31","c":45,"v":0.11},
{"s":"a32","c":22,"v":1e-12},{"s":"a32","c":23,"v":0.0013},{"s":"a32","c":24,"v":0.0044},{"s":"a32","c":25,"v":0.0095},{"s":"a32","c":26,"v":0.0192},{"s":"a32","c":27,"v":0.0365},{"s":"a32","c":28,"v":0.064},{"s":"a32","c":29,"v":0.097},{"s":"a32","c":30,"v":0.117},{"s":"a32","c":31,"v":0.124},{"s":"a32","c":45,"v":0.119},
{"s":"a33","c":22,"v":1e-12},{"s":"a33","c":23,"v":0.001},{"s":"a33","c":24,"v":0.0042},{"s":"a33","c":25,"v":0.0091},{"s":"a33","c":26,"v":0.0178},{"s":"a33","c":27,"v":0.0335},{"s":"a33","c":28,"v":0.059},{"s":"a33","c":29,"v":0.093},{"s":"a33","c":30,"v":0.114},{"s":"a33","c":31,"v":0.119},{"s":"a33","c":45,"v":0.114},
{"s":"a34","c":22,"v":1e-12},{"s":"a34","c":23,"v":0.00038},{"s":"a34","c":24,"v":0.0027},{"s":"a34","c":25,"v":0.0069},{"s":"a34","c":26,"v":0.0139},{"s":"a34","c":27,"v":0.027},{"s":"a34","c":28,"v":0.049},{"s":"a34","c":29,"v":0.081},{"s":"a34","c":30,"v":0.11},{"s":"a34","c":31,"v":0.125},{"s":"a34","c":32,"v":0.131},{"s":"a34","c":45,"v":0.125},
{"s":"a35","c":23,"v":1e-12},{"s":"a35","c":24,"v":0.0023},{"s":"a35","c":25,"v":0.0062},{"s":"a35","c":26,"v":0.0122},{"s":"a35","c":27,"v":0.0237},{"s":"a35","c":28,"v":0.044},{"s":"a35","c":29,"v":0.0745},{"s":"a35","c":30,"v":0.104},{"s":"a35","c":31,"v":0.118},{"s":"a35","c":32,"v":0.122},{"s":"a35","c":45,"v":0.117},
{"s":"a36","c":23,"v":1e-12},{"s":"a36","c":24,"v":0.0016},{"s":"a36","c":25,"v":0.005},{"s":"a36","c":26,"v":0.0103},{"s":"a36","c":27,"v":0.0203},{"s":"a36","c":28,"v":0.038},{"s":"a36","c":29,"v":0.065},{"s":"a36","c":30,"v":0.094},{"s":"a36","c":31,"v":0.104},{"s":"a36","c":32,"v":0.106},{"s":"a36","c":45,"v":0.102},
{"s":"a37","c":23,"v":1e-12},{"s":"a37","c":24,"v":0.0009},{"s":"a37","c":25,"v":0.004},{"s":"a37","c":26,"v":0.0087},{"s":"a37","c":27,"v":0.0173},{"s":"a37","c":28,"v":0.0328},{"s":"a37","c":29,"v":0.058},{"s":"a37","c":30,"v":0.092},{"s":"a37","c":31,"v":0.115},{"s":"a37","c":32,"v":0.124},{"s":"a37","c":33,"v":0.126},{"s":"a37","c":45,"v":0.12},
{"s":"a38","c":23,"v":1e-12},{"s":"a38","c":24,"v":0.0007},{"s":"a38","c":25,"v":0.0036},{"s":"a38","c":26,"v":0.0083},{"s":"a38","c":27,"v":0.0167},{"s":"a38","c":28,"v":0.032},{"s":"a38","c":29,"v":0.057},{"s":"a38","c":30,"v":0.09},{"s":"a38","c":31,"v":0.112},{"s":"a38","c":32,"v":0.117},{"s":"a38","c":45,"v":0.112},
{"s":"a39","c":23,"v":1e-12},{"s":"a39","c":24,"v":0.00028},{"s":"a39","c":25,"v":0.0028},{"s":"a39","c":26,"v":0.0071},{"s":"a39","c":27,"v":0.0142},{"s":"a39","c":28,"v":0.0273},{"s":"a39","c":29,"v":0.0495},{"s":"a39","c":30,"v":0.081},{"s":"a39","c":31,"v":0.106},{"s":"a39","c":32,"v":0.114},{"s":"a39","c":45,"v":0.109},
{"s":"a40","c":24,"v":1e-6},{"s":"a40","c":25,"v":0.0024},{"s":"a40","c":26,"v":0.0063},{"s":"a40","c":27,"v":0.0123},{"s":"a40","c":28,"v":0.0238},{"s":"a40","c":29,"v":0.044},{"s":"a40","c":30,"v":0.0745},{"s":"a40","c":31,"v":0.104},{"s":"a40","c":32,"v":0.117},{"s":"a40","c":33,"v":0.12},{"s":"a40","c":45,"v":0.115},
{"s":"a41","c":24,"v":1e-6},{"s":"a41","c":25,"v":0.0019},{"s":"a41","c":26,"v":0.0058},{"s":"a41","c":27,"v":0.0119},{"s":"a41","c":28,"v":0.0232},{"s":"a41","c":29,"v":0.0434},{"s":"a41","c":30,"v":0.074},{"s":"a41","c":31,"v":0.105},{"s":"a41","c":32,"v":0.122},{"s":"a41","c":33,"v":0.131},{"s":"a41","c":45,"v":0.125},
{"s":"a42","c":24,"v":1e-6},{"s":"a42","c":25,"v":0.0016},{"s":"a42","c":26,"v":0.005},{"s":"a42","c":27,"v":0.0103},{"s":"a42","c":28,"v":0.0203},{"s":"a42","c":29,"v":0.038},{"s":"a42","c":30,"v":0.066},{"s":"a42","c":31,"v":0.097},{"s":"a42","c":32,"v":0.109},{"s":"a42","c":33,"v":0.111},{"s":"a42","c":45,"v":0.106},
{"s":"a43","c":24,"v":1e-6},{"s":"a43","c":25,"v":0.0007},{"s":"a43","c":26,"v":0.0036},{"s":"a43","c":27,"v":0.0083},{"s":"a43","c":28,"v":0.0167},{"s":"a43","c":29,"v":0.032},{"s":"a43","c":30,"v":0.057},{"s":"a43","c":31,"v":0.091},{"s":"a43","c":32,"v":0.114},{"s":"a43","c":33,"v":0.123},{"s":"a43","c":45,"v":0.118},
{"s":"a44","c":24,"v":1e-6},{"s":"a44","c":25,"v":0.00028},{"s":"a44","c":26,"v":0.0027},{"s":"a44","c":27,"v":0.0069},{"s":"a44","c":28,"v":0.0139},{"s":"a44","c":29,"v":0.027},{"s":"a44","c":30,"v":0.049},{"s":"a44","c":31,"v":0.08},{"s":"a44","c":32,"v":0.098},{"s":"a44","c":33,"v":0.101},{"s":"a44","c":45,"v":0.098},
{"s":"a45","c":24,"v":1e-6},{"s":"a45","c":25,"v":0.0004},{"s":"a45","c":26,"v":0.0031},{"s":"a45","c":27,"v":0.0074},{"s":"a45","c":28,"v":0.0147},{"s":"a45","c":29,"v":0.028},{"s":"a45","c":30,"v":0.051},{"s":"a45","c":31,"v":0.083},{"s":"a45","c":32,"v":0.108},{"s":"a45","c":33,"v":0.118},{"s":"a45","c":45,"v":0.113},
{"s":"a46","c":23,"v":1e-12},{"s":"a46","c":24,"v":0.0019},{"s":"a46","c":25,"v":0.0058},{"s":"a46","c":26,"v":0.0118},{"s":"a46","c":27,"v":0.023},{"s":"a46","c":28,"v":0.043},{"s":"a46","c":29,"v":0.0735},{"s":"a46","c":30,"v":0.1},{"s":"a46","c":31,"v":0.108},{"s":"a46","c":32,"v":0.11},{"s":"a46","c":45,"v":0.105},
{"s":"a47","c":22,"v":1e-12},{"s":"a47","c":23,"v":0.0017},{"s":"a47","c":24,"v":0.0052},{"s":"a47","c":25,"v":0.0106},{"s":"a47","c":26,"v":0.021},{"s":"a47","c":27,"v":0.039},{"s":"a47","c":28,"v":0.067},{"s":"a47","c":29,"v":0.098},{"s":"a47","c":30,"v":0.107},{"s":"a47","c":31,"v":0.109},{"s":"a47","c":45,"v":0.104},
{"s":"a48","c":21,"v":1e-12},{"s":"a48","c":22,"v":0.0013},{"s":"a48","c":23,"v":0.0045},{"s":"a48","c":24,"v":0.0097},{"s":"a48","c":25,"v":0.0195},{"s":"a48","c":26,"v":0.037},{"s":"a48","c":27,"v":0.065},{"s":"a48","c":28,"v":0.099},{"s":"a48","c":29,"v":0.121},{"s":"a48","c":30,"v":0.133},{"s":"a48","c":31,"v":0.135},{"s":"a48","c":45,"v":0.128},
{"s":"a49","c":24,"v":1e-6},{"s":"a49","c":25,"v":0.0014},{"s":"a49","c":26,"v":0.0047},{"s":"a49","c":27,"v":0.01},{"s":"a49","c":28,"v":0.0198},{"s":"a49","c":29,"v":0.0374},{"s":"a49","c":30,"v":0.065},{"s":"a49","c":31,"v":0.099},{"s":"a49","c":32,"v":0.12},{"s":"a49","c":33,"v":0.127},{"s":"a49","c":45,"v":0.121},
{"s":"a50","c":23,"v":1e-12},{"s":"a50","c":24,"v":0.0014},{"s":"a50","c":25,"v":0.0046},{"s":"a50","c":26,"v":0.0099},{"s":"a50","c":27,"v":0.0197},{"s":"a50","c":28,"v":0.0372},{"s":"a50","c":29,"v":0.065},{"s":"a50","c":30,"v":0.099},{"s":"a50","c":31,"v":0.119},{"s":"a50","c":32,"v":0.129},{"s":"a50","c":45,"v":0.123},
{"s":"a51","c":21,"v":1e-12},{"s":"a51","c":22,"v":0.0006},{"s":"a51","c":23,"v":0.0034},{"s":"a51","c":24,"v":0.008},{"s":"a51","c":25,"v":0.016},{"s":"a51","c":26,"v":0.031},{"s":"a51","c":27,"v":0.055},{"s":"a51","c":28,"v":0.088},{"s":"a51","c":29,"v":0.112},{"s":"a51","c":30,"v":0.124},{"s":"a51","c":45,"v":0.118},
{"s":"a52","c":22,"v":1e-12},{"s":"a52","c":23,"v":0.0018},{"s":"a52","c":24,"v":0.0054},{"s":"a52","c":25,"v":0.011},{"s":"a52","c":26,"v":0.0218},{"s":"a52","c":27,"v":0.041},{"s":"a52","c":28,"v":0.07},{"s":"a52","c":29,"v":0.101},{"s":"a52","c":30,"v":0.117},{"s":"a52","c":31,"v":0.121},{"s":"a52","c":45,"v":0.116},
{"s":"a53","c":22,"v":1e-12},{"s":"a53","c":23,"v":0.0011},{"s":"a53","c":24,"v":0.0042},{"s":"a53","c":25,"v":0.0094},{"s":"a53","c":26,"v":0.0185},{"s":"a53","c":27,"v":0.035},{"s":"a53","c":28,"v":0.061},{"s":"a53","c":29,"v":0.095},{"s":"a53","c":30,"v":0.114},{"s":"a53","c":31,"v":0.12},{"s":"a53","c":45,"v":0.115},
{"s":"a54","c":22,"v":1e-12},{"s":"a54","c":23,"v":0.0002},{"s":"a54","c":24,"v":0.0024},{"s":"a54","c":25,"v":0.0065},{"s":"a54","c":26,"v":0.013},{"s":"a54","c":27,"v":0.0255},{"s":"a54","c":28,"v":0.047},{"s":"a54","c":29,"v":0.078},{"s":"a54","c":30,"v":0.106},{"s":"a54","c":31,"v":0.116},{"s":"a54","c":32,"v":0.118},{"s":"a54","c":45,"v":0.113},
{"s":"a55","c":23,"v":1e-12},{"s":"a55","c":24,"v":0.0019},{"s":"a55","c":25,"v":0.0057},{"s":"a55","c":26,"v":0.0113},{"s":"a55","c":27,"v":0.0222},{"s":"a55","c":28,"v":0.0415},{"s":"a55","c":29,"v":0.071},{"s":"a55","c":30,"v":0.102},{"s":"a55","c":31,"v":0.12},{"s":"a55","c":32,"v":0.127},{"s":"a55","c":45,"v":0.121},
{"s":"a56","c":23,"v":1e-12},{"s":"a56","c":24,"v":0.0011},{"s":"a56","c":25,"v":0.0042},{"s":"a56","c":26,"v":0.0092},{"s":"a56","c":27,"v":0.0182},{"s":"a56","c":28,"v":0.0345},{"s":"a56","c":29,"v":0.06},{"s":"a56","c":30,"v":0.094},{"s":"a56","c":31,"v":0.113},{"s":"a56","c":32,"v":0.12},{"s":"a56","c":45,"v":0.115},
{"s":"a57","c":23,"v":1e-12},{"s":"a57","c":24,"v":0.0006},{"s":"a57","c":25,"v":0.0034},{"s":"a57","c":26,"v":0.0079},{"s":"a57","c":27,"v":0.0159},{"s":"a57","c":28,"v":0.0305},{"s":"a57","c":29,"v":0.054},{"s":"a57","c":30,"v":0.087},{"s":"a57","c":31,"v":0.108},{"s":"a57","c":32,"v":0.116},{"s":"a57","c":45,"v":0.111},
{"s":"a58","c":23,"v":1e-12},{"s":"a58","c":24,"v":0.00012},{"s":"a58","c":25,"v":0.0023},{"s":"a58","c":26,"v":0.0064},{"s":"a58","c":27,"v":0.0128},{"s":"a58","c":28,"v":0.0249},{"s":"a58","c":29,"v":0.046},{"s":"a58","c":30,"v":0.077},{"s":"a58","c":31,"v":0.104},{"s":"a58","c":32,"v":0.119},{"s":"a58","c":33,"v":0.124},{"s":"a58","c":45,"v":0.119},
{"s":"a59","c":24,"v":1e-6},{"s":"a59","c":25,"v":0.0019},{"s":"a59","c":26,"v":0.0057},{"s":"a59","c":27,"v":0.0113},{"s":"a59","c":28,"v":0.0222},{"s":"a59","c":29,"v":0.0415},{"s":"a59","c":30,"v":0.071},{"s":"a59","c":31,"v":0.1},{"s":"a59","c":32,"v":0.113},{"s":"a59","c":33,"v":0.116},{"s":"a59","c":45,"v":0.111},
{"s":"a60","c":24,"v":1e-6},{"s":"a60","c":25,"v":0.001},{"s":"a60","c":26,"v":0.0042},{"s":"a60","c":27,"v":0.0092},{"s":"a60","c":28,"v":0.0182},{"s":"a60","c":29,"v":0.0345},{"s":"a60","c":30,"v":0.06},{"s":"a60","c":31,"v":0.094},{"s":"a60","c":32,"v":0.115},{"s":"a60","c":33,"v":0.121},{"s":"a60","c":45,"v":0.116},
{"s":"a61","c":24,"v":1e-6},{"s":"a61","c":25,"v":0.0006},{"s":"a61","c":26,"v":0.0034},{"s":"a61","c":27,"v":0.0079},{"s":"a61","c":28,"v":0.0159},{"s":"a61","c":29,"v":0.0305},{"s":"a61","c":30,"v":0.054},{"s":"a61","c":31,"v":0.087},{"s":"a61","c":32,"v":0.106},{"s":"a61","c":33,"v":0.111},{"s":"a61","c":45,"v":0.106},
{"s":"a62","c":24,"v":1e-6},{"s":"a62","c":25,"v":0.0001},{"s":"a62","c":26,"v":0.0023},{"s":"a62","c":27,"v":0.0064},{"s":"a62","c":28,"v":0.0128},{"s":"a62","c":29,"v":0.0249},{"s":"a62","c":30,"v":0.046},{"s":"a62","c":31,"v":0.077},{"s":"a62","c":32,"v":0.102},{"s":"a62","c":33,"v":0.11},{"s":"a62","c":45,"v":0.105},
{"s":"a63","c":23,"v":1e-12},{"s":"a63","c":24,"v":0.0022},{"s":"a63","c":25,"v":0.0061},{"s":"a63","c":26,"v":0.0121},{"s":"a63","c":27,"v":0.0236},{"s":"a63","c":28,"v":0.044},{"s":"a63","c":29,"v":0.075},{"s":"a63","c":30,"v":0.106},{"s":"a63","c":31,"v":0.124},{"s":"a63","c":32,"v":0.133},{"s":"a63","c":45,"v":0.127},
{"s":"a64","c":22,"v":1e-12},{"s":"a64","c":23,"v":0.0007},{"s":"a64","c":24,"v":0.0035},{"s":"a64","c":25,"v":0.0079},{"s":"a64","c":26,"v":0.0158},{"s":"a64","c":27,"v":0.0305},{"s":"a64","c":28,"v":0.054},{"s":"a64","c":29,"v":0.087},{"s":"a64","c":30,"v":0.11},{"s":"a64","c":31,"v":0.117},{"s":"a64","c":45,"v":0.112}
]
},
"vconcat": [
{
  "spacing": 0,
  "hconcat": [
    {
      "width": 4,
      "height": 227,
      "data": {"values": []},
      "mark": {"type": "point", "opacity": 0},
      "encoding": {}
    },
    {
      "width": 456,
      "height": 227,
      "view": {"stroke": "#d6d6d6", "strokeWidth": 1},
      "title": {"text": "Amplification Plot", "font": "Liberation Sans", "fontSize": 13.5, "fontWeight": "bold", "color": "#000000", "anchor": "middle", "frame": "bounds", "offset": 5, "dx": -3},
      "layer": [
        {
          "data": {"name": "curves"},
          "mark": {"type": "line", "clip": true, "strokeWidth": 1, "color": "#0000ff"},
          "encoding": {
            "x": {"field": "c", "type": "quantitative",
                  "scale": {"domain": [1, 45], "nice": false, "zero": false},
                  "axis": {"values": [2,4,6,8,10,12,14,16,18,20,22,24,26,28,30,32,34,36,38,40,42,44],
                           "title": "Cycle", "grid": true, "gridColor": "#dcdcdc", "gridDash": [2, 2],
                           "domainColor": "#bdbdbd", "domainWidth": 2, "tickColor": "#9a9a9a", "tickSize": 3,
                           "labelFont": "Liberation Sans", "labelFontSize": 6, "labelColor": "#333333", "labelPadding": 1,
                           "labelFlush": false, "labelOverlap": false,
                           "titleFont": "Liberation Sans", "titleFontSize": 9.5, "titleFontWeight": "normal", "titleColor": "#000000", "titlePadding": 3}},
            "y": {"field": "v", "type": "quantitative",
                  "scale": {"type": "log", "domain": [0.00002, 0.2], "nice": false},
                  "axis": {"values": [0.00002,0.00003,0.00004,0.00005,0.00006,0.00007,0.00008,0.00009,0.0001,0.0002,0.0003,0.0004,0.0005,0.0006,0.0007,0.0008,0.0009,0.001,0.002,0.003,0.004,0.005,0.006,0.007,0.008,0.009,0.01,0.02,0.03,0.04,0.05,0.06,0.07,0.08,0.09,0.1,0.2],
                           "format": "~g",
                           "labelExpr": "indexof(['0.1','0.01','0.001','0.0001'], datum.label) >= 0 ? datum.label : ''",
                           "tickOpacity": {"condition": {"test": "indexof(['0.1','0.01','0.001','0.0001'], datum.label) >= 0", "value": 1}, "value": 0},
                           "title": "ΔRn", "grid": true, "gridColor": "#dcdcdc", "gridDash": [2, 2],
                           "domainColor": "#bdbdbd", "domainWidth": 2, "tickColor": "#9a9a9a", "tickSize": 3,
                           "labelFont": "Liberation Sans", "labelFontSize": 6, "labelColor": "#333333", "labelPadding": 3,
                           "labelOverlap": false,
                           "titleFont": "Liberation Sans", "titleFontSize": 10, "titleFontWeight": "normal", "titleColor": "#000000", "titlePadding": 5}},
            "detail": {"field": "s", "type": "nominal"}
          }
        },
        {
          "data": {"name": "thr"},
          "mark": {"type": "rule", "color": "#0000ff", "strokeWidth": 2},
          "encoding": {"y": {"field": "t", "type": "quantitative"}}
        },
        {
          "data": {"name": "thr"},
          "mark": {"type": "text", "font": "Liberation Serif", "fontWeight": "bold", "fontSize": 10, "color": "#e31a1c", "align": "left", "baseline": "alphabetic", "dx": 1, "dy": -2},
          "encoding": {"x": {"field": "c0", "type": "quantitative"}, "y": {"field": "t", "type": "quantitative"}, "text": {"field": "label"}}
        }
      ]
    }
  ]
},
{
  "width": 504,
  "height": 40,
  "view": {"stroke": "#8aa2b8", "strokeWidth": 1},
  "title": {"text": "Legend", "font": "DejaVu Sans", "fontSize": 5, "fontWeight": "normal", "color": "#666666", "anchor": "start", "dx": 5, "offset": -3},
  "data": {"name": "leg"},
  "mark": {"type": "point", "filled": true, "opacity": 0},
  "encoding": {
    "color": {"field": "g", "type": "nominal",
              "scale": {"domain": ["ACTB", "RASSF1A"], "range": ["#0000ff", "#b41a20"]},
              "legend": {"orient": "none", "legendX": -0.9, "legendY": 281.7, "direction": "horizontal", "title": null,
                         "symbolType": "square", "symbolSize": 121, "symbolOpacity": 1, "symbolStrokeWidth": 0,
                         "labelFont": "DejaVu Sans", "labelFontSize": 8, "labelColor": "#000000", "labelOffset": 2.5,
                         "columnPadding": 7.5, "padding": 0}}
  }
}
]
}
